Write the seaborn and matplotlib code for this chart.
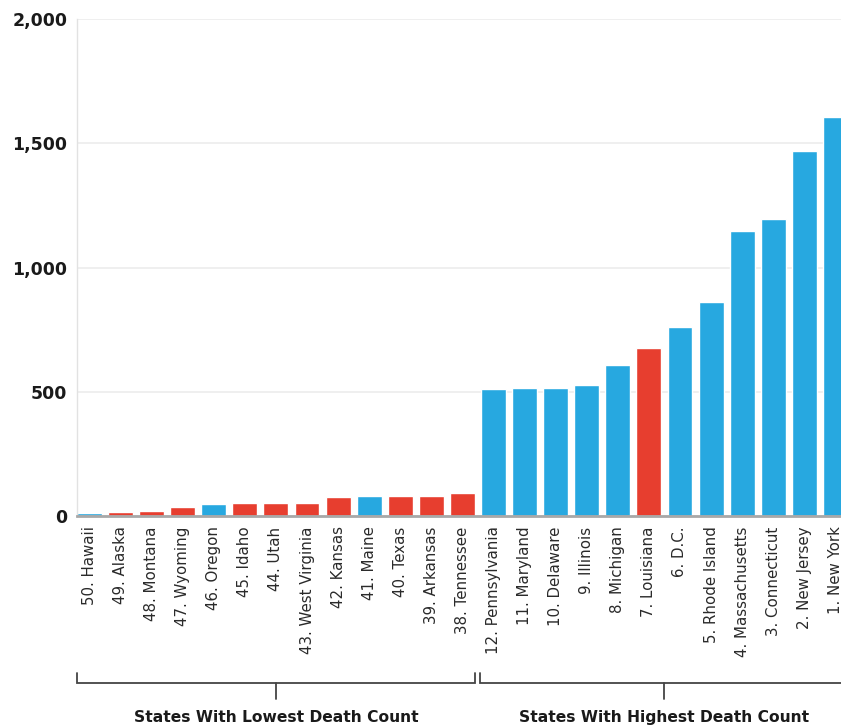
import matplotlib
matplotlib.use("Agg")
import matplotlib.pyplot as plt
import matplotlib.transforms as mtransforms
import seaborn as sns
import pandas as pd

states = ["50. Hawaii", "49. Alaska", "48. Montana", "47. Wyoming", "46. Oregon",
          "45. Idaho", "44. Utah", "43. West Virginia", "42. Kansas", "41. Maine",
          "40. Texas", "39. Arkansas", "38. Tennessee",
          "12. Pennsylvania", "11. Maryland", "10. Delaware", "9. Illinois",
          "8. Michigan", "7. Louisiana", "6. D.C.", "5. Rhode Island",
          "4. Massachusetts", "3. Connecticut", "2. New Jersey", "1. New York"]
deaths = [13, 17, 21, 35, 48, 51, 51, 51, 76, 80, 80, 81, 91,
          510, 514, 514, 529, 606, 676, 762, 863, 1145, 1194, 1470, 1604]
party = ["D", "R", "R", "R", "D", "R", "R", "R", "R", "D", "R", "R", "R",
         "D", "D", "D", "D", "D", "R", "D", "D", "D", "D", "D", "D"]
group_labels = ["States With Lowest Death Count", "States With Highest Death Count"]
y_ticks = [0, 500, 1000, 1500, 2000]
y_tick_labels = ["0", "500", "1,000", "1,500", "2,000"]

df = pd.DataFrame({"state": states, "deaths": deaths, "party": party})
palette = {"D": "#27a8e0", "R": "#e73e2f"}

sns.set_theme(style="white")
plt.rcParams['font.family'] = ['DejaVu Sans']

fig = plt.figure(figsize=(8.41, 7.27), dpi=100)
ax = fig.add_axes([77 / 841, 1 - 516 / 727, 1 - 77 / 841, (516 - 19) / 727])

sns.barplot(data=df, x="state", y="deaths", hue="party", palette=palette,
            dodge=False, width=0.8, legend=False, ax=ax, saturation=1)

ax.set_xlim(-0.4, 24.18)
ax.set_ylim(0, 2000)
ax.set_yticks(y_ticks)
ax.set_yticklabels(y_tick_labels, fontsize=12.5, fontweight="bold", color="#1a1a1a")
ax.set_xticks(range(len(states)))
ax.set_xticklabels(states, rotation=90, fontsize=10.8, color="#2a2a2a",
                   va="top", ha="center")
ax.tick_params(axis="y", length=0, pad=7)
ax.tick_params(axis="x", length=0, pad=7.5)
ax.set_xlabel("")
ax.set_ylabel("")

ax.grid(axis="y", color="#ececec", linewidth=1.2, zorder=0)
ax.set_axisbelow(True)
for s in ["top", "right"]:
    ax.spines[s].set_visible(False)
ax.spines["left"].set_color("#e2e2e2")
ax.spines["left"].set_linewidth(1)
ax.spines["bottom"].set_color("#a8a8a8")
ax.spines["bottom"].set_linewidth(2)

# group brackets
trans = mtransforms.blended_transform_factory(ax.transData, ax.transAxes)
ybar, yend, ytick, ytext = -0.336, -0.316, -0.368, -0.405
brackets = [(-0.4, 12.4, 6.0), (12.56, 24.6, 18.48)]
for (x0, x1, xc), lab in zip(brackets, group_labels):
    ax.plot([x0, x0, x1, x1], [yend, ybar, ybar, yend], color="#444444",
            lw=1.3, transform=trans, clip_on=False, solid_joinstyle="miter")
    ax.plot([xc, xc], [ybar, ytick], color="#444444", lw=1.3,
            transform=trans, clip_on=False)
    ax.text(xc, ytext, lab, transform=trans, ha="center", va="center",
            fontsize=11.2, fontweight="bold", color="#1a1a1a")

fig.savefig("out.png", dpi=100)
